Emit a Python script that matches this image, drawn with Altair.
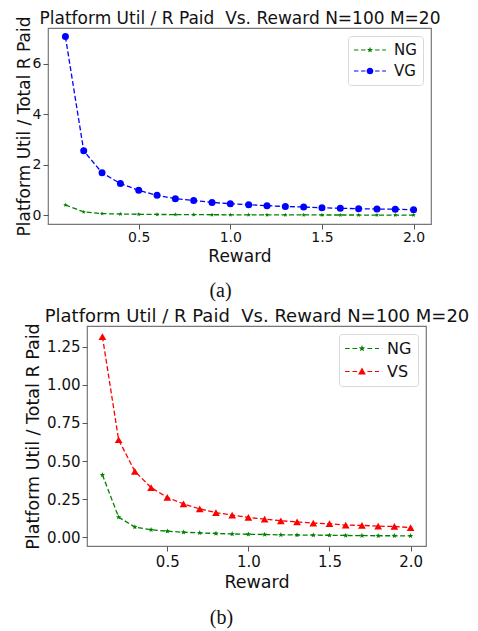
import math
import altair as alt
import pandas as pd

# ---------------- data ----------------
reward = [0.1, 0.2, 0.3, 0.4, 0.5, 0.6, 0.7, 0.8, 0.9, 1.0,
          1.1, 1.2, 1.3, 1.4, 1.5, 1.6, 1.7, 1.8, 1.9, 2.0]
ng = [0.41, 0.133, 0.068, 0.050, 0.041, 0.034, 0.030, 0.026, 0.023, 0.021,
      0.019, 0.017, 0.016, 0.015, 0.014, 0.013, 0.012, 0.011, 0.011, 0.010]
vg = [7.07, 2.55, 1.68, 1.26, 0.99, 0.79, 0.66, 0.59, 0.51, 0.46,
      0.42, 0.38, 0.35, 0.33, 0.30, 0.28, 0.26, 0.25, 0.24, 0.22]
vs = [1.316, 0.640, 0.433, 0.327, 0.262, 0.220, 0.187, 0.163, 0.146, 0.131,
      0.120, 0.109, 0.102, 0.094, 0.090, 0.081, 0.079, 0.074, 0.072, 0.065]

title_text = "Platform Util / R Paid\u00a0 Vs. Reward N=100 M=20"
y_title = "Platform Util / Total R Paid"
x_title = "Reward"
x_ticks = [0.5, 1.0, 1.5, 2.0]
y_ticks_a = [0, 2, 4, 6]
y_ticks_b = [0.0, 0.25, 0.5, 0.75, 1.0, 1.25]

FONT = "DejaVu Sans"
SERIF = "Liberation Serif"
GREEN, BLUE, RED = "#008000", "#0000ff", "#ff0000"


# ---------------- marker / legend-symbol paths (styling) ----------------
def star(cx, cy, R, ratio=0.42):
    pts = []
    for k in range(10):
        ang = -math.pi / 2 + k * math.pi / 5
        r = R if k % 2 == 0 else R * ratio
        pts.append((cx + r * math.cos(ang), cy + r * math.sin(ang)))
    return "M" + "L".join(f"{x:.3f},{y:.3f}" for x, y in pts) + "Z"


def circle(cx, cy, r):
    return (f"M{cx - r:.3f},{cy:.3f}A{r:.3f},{r:.3f} 0 1,0 {cx + r:.3f},{cy:.3f}"
            f"A{r:.3f},{r:.3f} 0 1,0 {cx - r:.3f},{cy:.3f}Z")


def triangle(cx, cy, r):
    return (f"M{cx:.3f},{cy - r:.3f}L{cx + r * 0.95:.3f},{cy + r * 0.75:.3f}"
            f"L{cx - r * 0.95:.3f},{cy + r * 0.75:.3f}Z")


def dashes(x0, x1, skip0, skip1, dash=0.55, gap=0.33, half=0.06):
    out = []
    x = x0
    while x < x1 - 1e-6:
        e = min(x + dash, x1)
        for a, b in ((x, min(e, skip0)), (max(x, skip1), e)):
            if b - a > 0.05:
                out.append(f"M{a:.3f},{-half:.3f}H{b:.3f}V{half:.3f}H{a:.3f}Z")
        x = e + gap
    return "".join(out)


# legend symbol path: unit coords span x -1..3 (marker at x=1)
line_part = dashes(-1.0, 3.0, 0.6, 1.4)
leg_shape = {
    "NG": line_part + star(1.0, 0.0, 0.40),
    "VG": line_part + circle(1.0, 0.0, 0.42),
    "VS": line_part + triangle(1.0, 0.0, 0.48),
}
STAR_PATH = star(0, 0, 1.0)


def panel(series, colors, shapes, sizes, ydom, yticks, yfmt, width, height,
          fs_tick, fs_title, fs_axis, fs_leg, sym_size, lab_off, rowpad,
          title_pad, label_pad, cap, cap_dx, cap_off, top_pad,
          xlab_pad, xtitle_pad):
    names = [s[0] for s in series]
    expr_shape = " : ".join(
        [f"datum.value === '{n}' ? '{leg_shape[n]}'" for n in names[:-1]]
        + [f"'{leg_shape[names[-1]]}'"])
    common = dict(grid=False, domain=False, tickSize=5, tickColor="#555",
                  labelFontSize=fs_tick, titleFontSize=fs_axis,
                  labelFont=FONT, titleFont=FONT, titleFontWeight="normal",
                  labelColor="#111", titleColor="#111", minExtent=0)
    xscale = alt.Scale(domain=[0.005, 2.095], nice=False, zero=False)
    x_bottom = alt.X("Reward:Q", scale=xscale,
                     axis=alt.Axis(values=x_ticks, format=".1f", title=x_title,
                                   labelPadding=xlab_pad, titlePadding=xtitle_pad,
                                   **common))
    x_top = alt.X("Reward:Q", scale=xscale,
                  axis=alt.Axis(orient="top", title=title_text, labels=False,
                                ticks=False, domain=False, grid=False,
                                minExtent=0, maxExtent=0,
                                titleFont=FONT, titleFontSize=fs_title,
                                titleFontWeight="normal", titleColor="#111",
                                titlePadding=top_pad))
    x_none = alt.X("Reward:Q", scale=xscale, axis=None)
    y = alt.Y("val:Q",
              scale=alt.Scale(domain=ydom, nice=False, zero=False),
              axis=alt.Axis(values=yticks, format=yfmt, title=y_title,
                            labelPadding=label_pad, titlePadding=title_pad,
                            **common))
    cscale = alt.Scale(domain=names, range=colors)
    legend = alt.Legend(
        title=None, orient="top-right", offset=8,
        labelFont=FONT, labelFontSize=fs_leg, labelColor="#111",
        symbolSize=sym_size, labelOffset=lab_off,
        rowPadding=rowpad, padding=6, strokeColor="#d9d9d9",
        fillColor="white", cornerRadius=3,
        symbolType=alt.ExprRef(expr_shape),
        symbolStrokeWidth=0, symbolOpacity=1,
    )
    lines, points = [], []
    for i, ((name, vals), c, shp, sz) in enumerate(zip(series, colors, shapes, sizes)):
        df = pd.DataFrame({"Reward": reward, "val": vals, "series": name})
        lines.append(alt.Chart(df).mark_line(
            color=c, strokeDash=[5, 2.5], strokeWidth=1.3).encode(
            x=x_bottom if i == 0 else x_none, y=y))
        points.append(alt.Chart(df).mark_point(
            shape=shp, size=sz, filled=True, opacity=1, strokeWidth=0).encode(
            x=x_top if i == 0 else x_none, y=y,
            color=alt.Color("series:N", scale=cscale, legend=legend)))
    return alt.layer(*lines, *points).resolve_axis(x="independent").properties(
        width=width, height=height,
        title=alt.TitleParams(cap, orient="bottom", font=SERIF, fontSize=20,
                              fontWeight="normal", color="#111",
                              anchor="middle", frame="group",
                              dx=cap_dx, offset=cap_off),
    )


def spacer(w):
    return alt.Chart(pd.DataFrame({"v": [0]})).mark_point(
        opacity=0, size=1).encode(
        x=alt.X("v:Q", axis=None, scale=alt.Scale(domain=[0, 1])),
        y=alt.Y("v:Q", axis=None, scale=alt.Scale(domain=[0, 1])),
    ).properties(width=w, height=10, view=alt.ViewBackground(stroke=None))


pa = panel([("NG", ng), ("VG", vg)], [GREEN, BLUE], [STAR_PATH, "circle"],
           [22, 49], [-0.343, 7.41], y_ticks_a, "d", 383, 196,
           14, 17, 17, 15, 256, 24, 5, -1, 2, "(a)", -19, 17, 0.5, 1, 4)
pb = panel([("NG", ng), ("VS", vs)], [GREEN, RED], [STAR_PATH, "triangle-up"],
           [32, 60], [-0.056, 1.385], y_ticks_b, ".2f", 339, 220,
           15, 18, 17.5, 16, 289, 25, 6, 4, 2, "(b)", -35, 17, 1, 3, 4)

wa = alt.hconcat(spacer(1), pa, spacing=3).resolve_scale(color="independent")
wb = alt.hconcat(spacer(11), pb, spacing=3).resolve_scale(color="independent")

chart = alt.vconcat(wa, wb, spacing=4).resolve_scale(color="independent").properties(
    padding={"left": 1, "top": 0, "right": 0, "bottom": 0}
).configure_view(stroke="#777", strokeWidth=1.2)

chart.save("out.html", embed_options={"renderer": "svg", "actions": False})
